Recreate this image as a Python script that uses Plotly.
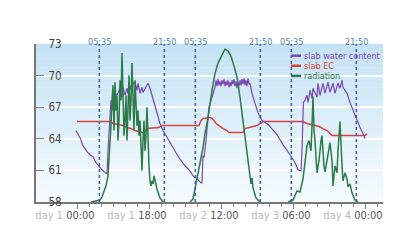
import plotly.graph_objects as go

# ---------------- data ----------------
# slab water content (%), hours from day 1 00:00
wc_hours = [-0.25, 0.75, 1.5, 2.5, 3.25, 4.0, 4.75, 5.5, 6.25, 6.75, 7.25, 7.5, 7.75, 8.0, 8.25, 8.5, 8.75,
            9.0, 9.5, 10.0, 10.75, 11.25, 11.5, 12.0, 12.5, 12.75, 13.25, 13.75, 14.0, 14.5, 15.0, 15.25,
            15.75, 16.25, 16.5, 17.0, 17.5, 17.75, 18.25, 18.75, 19.25, 20.0, 20.75, 21.5, 22.5, 24.0, 25.5,
            27.0, 28.25, 29.0, 30.0, 31.0, 31.25, 31.5, 31.75, 32.25, 32.75, 33.0, 33.5, 34.0, 34.5,
            34.75, 35.0, 35.25, 35.5, 35.75, 36.0, 36.25, 36.5, 36.75, 37.0, 37.25, 37.5, 37.75, 38.0,
            38.25, 38.5, 38.75, 39.0, 39.25, 39.5, 39.75, 40.0, 40.25, 40.5, 40.75, 41.0, 41.25, 41.5,
            41.75, 42.0, 42.25, 42.5, 42.75, 43.0, 43.25, 43.75, 44.5, 45.25, 46.25, 47.75, 50.0, 51.5,
            53.25, 54.5, 55.25, 56.0, 56.25, 56.5, 56.6, 57.0, 57.5, 57.75, 58.25, 58.75, 59.0, 60.0,
            60.25, 60.75, 61.5, 62.0, 62.75, 63.25, 64.0, 64.5, 65.25, 65.75, 66.25, 66.5, 67.5, 68.25,
            69.0, 70.0, 70.75, 71.5, 72.0]
wc_values = [64.78, 64.11, 63.35, 62.78, 62.49, 62.30, 61.73, 61.34, 61.06, 60.87, 60.68, 60.68, 62.87,
             64.31, 66.50, 67.65, 66.69, 68.13, 68.32, 68.13, 68.80, 67.94, 68.89, 68.13, 68.80, 68.32,
             69.08, 68.41, 69.27, 69.37, 68.61, 69.27, 68.32, 68.89, 68.41, 68.80, 69.08, 69.27, 68.80,
             68.13, 67.27, 66.41, 65.45, 64.78, 64.11, 63.16, 62.20, 61.44, 60.96, 60.48, 60.20, 59.82,
             59.82, 62.39, 62.20, 63.83, 65.74, 66.98, 67.65, 68.32, 68.89,
             69.56, 68.99, 69.66, 69.08, 69.46, 68.99, 69.56, 69.18, 69.66, 68.99, 69.46, 69.08, 69.56,
             68.89, 69.37, 68.99, 69.56, 69.18, 69.66, 68.99, 69.46, 68.80, 69.37, 68.99, 69.56, 69.08,
             69.66, 69.18, 69.75, 69.08, 69.56, 68.99, 69.75, 69.18, 69.27, 68.32, 67.36, 66.50, 65.74,
             65.36, 64.40, 63.45, 62.49, 61.73, 61.06, 60.96, 62.87, 65.74, 67.46, 67.65, 68.13, 67.46,
             68.61, 67.84, 68.80, 67.94, 69.27, 68.13, 69.27, 68.32, 69.37, 68.41, 69.27, 68.32, 69.27,
             68.80, 69.56, 68.89, 68.32, 67.46, 66.69, 65.74, 65.07, 64.50, 64.02]

# slab EC (mS/cm)
ec_hours = [0, 8.5, 9.0, 10.5, 11.5, 12.5, 13.5, 14.5, 15.5, 16.5, 17.0, 17.5, 20.5, 21.25, 30.5, 31.0,
            31.5, 33.5, 34.25, 34.75, 35.5, 36.5, 37.5, 38.0, 41.5, 42.0, 44.0, 45.0, 45.75, 46.5, 56.5,
            57.5, 58.5, 59.5, 60.5, 61.5, 62.5, 63.25, 63.75, 72.0, 72.5]
ec_values = [65.64, 65.64, 65.45, 65.36, 65.26, 65.07, 64.97, 64.78, 64.69, 64.59, 64.69, 64.97, 65.07,
             65.26, 65.26, 65.74, 65.93, 66.03, 65.74, 65.45, 65.26, 64.97, 64.78, 64.59, 64.59, 64.97,
             65.17, 65.26, 65.45, 65.64, 65.64, 65.45, 65.36, 65.26, 65.17, 64.97, 64.78, 64.50, 64.31,
             64.31, 64.50]

# radiation (W/m2); None marks the nights without data
rad_hours = [3.5, 5.25, 5.75, 6.25, 6.75, 7.25, 7.75, 8.0, 8.25, 8.5, 8.75, 9.0, 9.25, 9.5, 9.75, 10.0,
             10.25, 10.5, 10.75, 11.0, 11.25, 11.5, 11.75, 12.0, 12.25, 12.5, 12.75, 13.0, 13.25, 13.5,
             13.75, 14.0, 14.25, 14.5, 14.75, 15.0, 15.25, 15.5, 15.75, 16.0, 16.25, 16.5, 16.75, 17.0,
             17.25, 17.5, 17.75, 18.0, 18.25, 18.5, 18.75, 19.0, 19.25, 19.5, 20.0, 20.75, 21.5, 25.0,
             28.25, 29.0, 29.5, 30.25, 30.75, 31.5, 32.0, 32.75, 33.75, 34.5, 35.25, 36.25, 37.0, 37.75,
             38.5, 39.25, 40.0, 40.75, 41.5, 42.25, 42.75, 43.25, 43.5, 43.75, 44.0, 44.75, 45.75, 49.0,
             52.75, 54.0, 55.0, 55.75, 56.5, 57.0, 57.5, 58.0, 58.5, 58.75, 59.0, 59.25, 59.5, 60.0, 60.5,
             61.0, 61.25, 61.75, 62.0, 62.5, 63.0, 63.25, 63.75, 64.0, 64.5, 65.0, 65.25, 65.75, 66.25,
             66.5, 67.0, 67.5, 67.75, 68.25, 68.75, 69.5, 70.25]
rad_values = [0, 6, 11, 29, 63, 92, 149, 235, 321, 435, 579, 665, 407, 682, 521, 607, 350, 464, 693, 579,
              848, 579, 378, 464, 607, 350, 521, 722, 464, 579, 791, 607, 407, 693, 493, 435, 521, 378,
              464, 321, 178, 350, 464, 292, 378, 539, 350, 206, 120, 92, 120, 103, 149, 120, 74, 23, 0, None,
              0, 17, 74, 160, 235, 309, 390, 481, 636, 733, 791, 842, 871, 860, 831, 774, 711, 596, 464,
              321, 223, 166, 103, 138, 80, 23, 0, None,
              0, 11, 63, 57, 132, 235, 321, 350, 292, 435, 602, 407, 350, 166, 235, 350, 378, 206, 172,
              235, 309, 338, 235, 92, 206, 166, 292, 458, 206, 120, 166, 132, 86, 103, 52, 11, 0]

# sunrise / sunset markers
sun_hours = [5 + 35 / 60, 21 + 50 / 60, 29 + 35 / 60, 45 + 50 / 60, 53 + 35 / 60, 69 + 50 / 60]
sun_labels = ["05:35", "21:50", "05:35", "21:50", "05:35", "21:50"]

# axis ticks
x_tick_hours = [0, 18, 36, 54, 72]
x_tick_days = ["day 1", "day 1", "day 2", "day 3", "day 4"]
x_tick_times = ["00:00", "18:00", "12:00", "06:00", "00:00"]
y_ticks = [58, 61, 64, 67, 70, 73]

series_names = ["slab water content", "slab EC", "radiation"]
series_colors = ["#7a46b4", "#d8423a", "#2b7a48"]

FONT = "DejaVu Sans Condensed, Liberation Sans Narrow, Roboto, sans-serif"

# ---------------- figure ----------------
fig = go.Figure()

fig.add_trace(go.Scatter(x=rad_hours, y=rad_values, mode="lines", yaxis="y2",
                         line=dict(color=series_colors[2], width=1.5), connectgaps=False,
                         name=series_names[2], showlegend=False))
fig.add_trace(go.Scatter(x=ec_hours, y=ec_values, mode="lines",
                         line=dict(color=series_colors[1], width=1.5),
                         name=series_names[1], showlegend=False))
fig.add_trace(go.Scatter(x=wc_hours, y=wc_values, mode="lines",
                         line=dict(color=series_colors[0], width=1.2),
                         name=series_names[0], showlegend=False))

shapes = []
# gradient background of the plot area
n_bands = 40
top = (196, 226, 244)
bot = (246, 251, 254)
for i in range(n_bands):
    t = i / (n_bands - 1)
    c = tuple(round(bot[k] + (top[k] - bot[k]) * t) for k in range(3))
    shapes.append(dict(type="rect", xref="paper", yref="paper", x0=0, x1=1,
                       y0=i / n_bands, y1=(i + 1) / n_bands + 0.002,
                       fillcolor="rgb(%d,%d,%d)" % c, line=dict(width=0), layer="below"))

annotations = []
for h, lab in zip(sun_hours, sun_labels):
    shapes.append(dict(type="line", xref="x", yref="paper", x0=h, x1=h, y0=0, y1=1,
                       line=dict(color="#3b5cb8", width=1.5, dash="dot"), layer="above"))
    annotations.append(dict(x=h, y=1, xref="x", yref="paper", text=lab, showarrow=False,
                            yanchor="bottom", xanchor="center", yshift=-5,
                            font=dict(family=FONT, size=9, color="#5a7cb8")))

# custom compact legend
leg_y = [0.926, 0.862, 0.798]
for name, col, yy in zip(series_names, series_colors, leg_y):
    shapes.append(dict(type="line", xref="paper", yref="paper", x0=0.735, x1=0.764, y0=yy, y1=yy,
                       line=dict(color=col, width=2.5)))
    annotations.append(dict(x=0.770, y=yy, xref="paper", yref="paper", text=name, showarrow=False,
                            xanchor="left", yanchor="middle", borderpad=0,
                            font=dict(family=FONT, size=9, color=col)))

ticktext = ["<span style='color:#b8b8b8'>%s</span> %s" % (d, t)
            for d, t in zip(x_tick_days, x_tick_times)]

minor_vals = [v for v in range(0, 76, 3) if v not in x_tick_hours]

fig.update_layout(
    width=400, height=248, autosize=False,
    margin=dict(l=36, r=17, t=44, b=46),
    paper_bgcolor="white", plot_bgcolor="white",
    showlegend=False,
    font=dict(family=FONT, size=11, color="#444"),
    shapes=shapes, annotations=annotations,
    xaxis=dict(range=[-10.25, 76.5], tickmode="array", tickvals=x_tick_hours, ticktext=ticktext,
               tickangle=0, ticklabelshift=-12, ticklabeloverflow="allow", ticklabelstandoff=-3,
               ticks="outside", ticklen=5, tickwidth=1.2, tickcolor="#777",
               showline=True, linecolor="#777", linewidth=1.5, showgrid=False, zeroline=False,
               tickfont=dict(family=FONT, size=11, color="#555"),
               minor=dict(tickmode="array", tickvals=minor_vals, ticks="outside", ticklen=3,
                          tickcolor="#888", tickwidth=1, showgrid=False)),
    yaxis=dict(range=[58, 73], tickmode="array", tickvals=y_ticks, ticks="inside", ticklen=8,
               tickwidth=1.2, tickcolor="#777", ticklabelposition="inside",
               ticklabeloverflow="allow", ticklabelstandoff=4,
               showline=True, linecolor="#777", linewidth=1.5,
               showgrid=True, gridcolor="white", gridwidth=1.5, zeroline=False,
               tickfont=dict(family=FONT, size=11.5, color="#444")),
    yaxis2=dict(range=[0, 900], overlaying="y", side="right", visible=False, showgrid=False),
)

fig.write_html("out.html")
